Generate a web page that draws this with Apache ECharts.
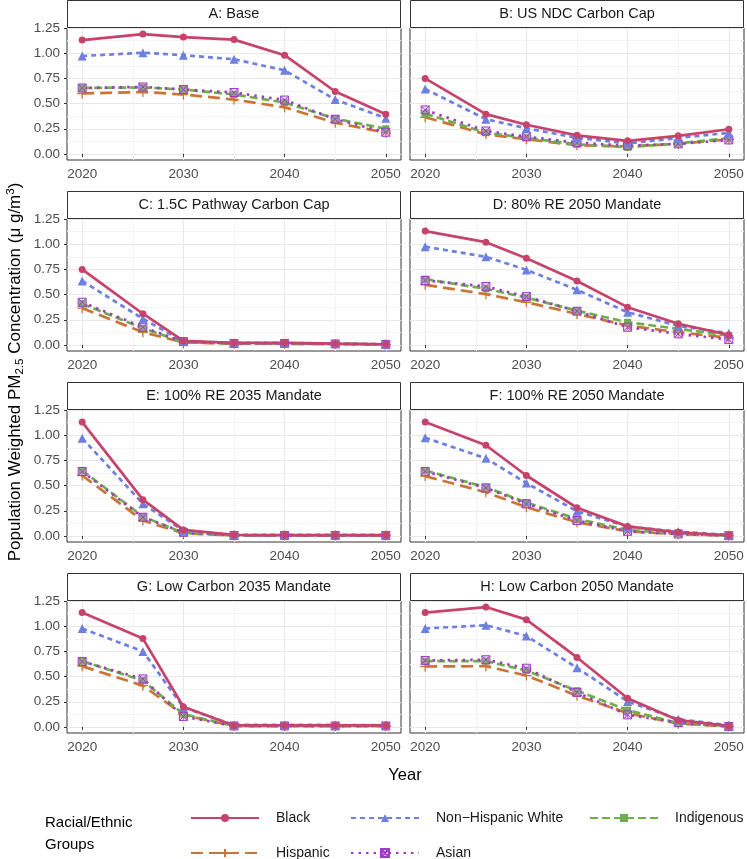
<!DOCTYPE html>
<html>
<head>
<meta charset="utf-8">
<script src="https://cdn.jsdelivr.net/npm/echarts@6/dist/echarts.min.js"></script>
<style>html,body{margin:0;padding:0;background:#fff;}#c{width:747px;height:859px;}</style>
</head>
<body>
<div id="c"></div>
<script>
// ---------------- data ----------------
const years = [2020, 2026, 2030, 2035, 2040, 2045, 2050];
const panelTitles = ['A: Base', 'B: US NDC Carbon Cap', 'C: 1.5C Pathway Carbon Cap', 'D: 80% RE 2050 Mandate',
  'E: 100% RE 2035 Mandate', 'F: 100% RE 2050 Mandate', 'G: Low Carbon 2035 Mandate', 'H: Low Carbon 2050 Mandate'];
const xTicks = [2020, 2030, 2040, 2050];
const xMinorTicks = [2025, 2035, 2045];
const yTicks = [0, 0.25, 0.5, 0.75, 1, 1.25];
const yMinorTicks = [0.125, 0.375, 0.625, 0.875, 1.125];

const black = [
  [1.13, 1.19, 1.16, 1.135, 0.98, 0.62, 0.395],
  [0.75, 0.395, 0.29, 0.185, 0.13, 0.18, 0.245],
  [0.75, 0.31, 0.04, 0.02, 0.02, 0.013, 0.007],
  [1.13, 1.02, 0.86, 0.635, 0.375, 0.21, 0.10],
  [1.13, 0.36, 0.06, 0.01, 0.008, 0.008, 0.008],
  [1.13, 0.90, 0.60, 0.28, 0.095, 0.036, 0.007],
  [1.135, 0.877, 0.20, 0.015, 0.015, 0.015, 0.015],
  [1.135, 1.19, 1.065, 0.69, 0.285, 0.067, 0.01]
];
const nonHispanicWhite = [
  [0.972, 1.005, 0.98, 0.94, 0.83, 0.54, 0.355],
  [0.645, 0.345, 0.255, 0.16, 0.105, 0.158, 0.21],
  [0.635, 0.26, 0.036, 0.02, 0.02, 0.015, 0.008],
  [0.975, 0.875, 0.745, 0.547, 0.325, 0.19, 0.115],
  [0.97, 0.32, 0.053, 0.01, 0.01, 0.01, 0.01],
  [0.975, 0.77, 0.525, 0.245, 0.093, 0.043, 0.01],
  [0.977, 0.75, 0.193, 0.02, 0.02, 0.02, 0.017],
  [0.977, 1.01, 0.903, 0.587, 0.253, 0.077, 0.017]
];
const indigenous = [
  [0.655, 0.66, 0.64, 0.59, 0.51, 0.35, 0.25],
  [0.40, 0.21, 0.16, 0.096, 0.066, 0.106, 0.156],
  [0.41, 0.166, 0.027, 0.015, 0.015, 0.01, 0.005],
  [0.653, 0.557, 0.47, 0.34, 0.225, 0.16, 0.093],
  [0.65, 0.192, 0.03, 0.005, 0.005, 0.005, 0.005],
  [0.65, 0.484, 0.332, 0.169, 0.06, 0.023, 0.003],
  [0.653, 0.46, 0.127, 0.01, 0.01, 0.01, 0.01],
  [0.653, 0.653, 0.56, 0.36, 0.167, 0.037, 0.01]
];
const hispanic = [
  [0.60, 0.615, 0.59, 0.54, 0.463, 0.31, 0.21],
  [0.364, 0.195, 0.146, 0.086, 0.076, 0.10, 0.146],
  [0.365, 0.126, 0.025, 0.012, 0.012, 0.01, 0.004],
  [0.597, 0.504, 0.424, 0.308, 0.192, 0.126, 0.07],
  [0.60, 0.153, 0.027, 0.004, 0.004, 0.004, 0.004],
  [0.594, 0.434, 0.285, 0.136, 0.046, 0.017, 0.003],
  [0.603, 0.41, 0.12, 0.007, 0.007, 0.007, 0.007],
  [0.60, 0.603, 0.51, 0.31, 0.137, 0.033, 0.005]
];
const asian = [
  [0.655, 0.665, 0.64, 0.61, 0.535, 0.345, 0.215],
  [0.437, 0.228, 0.172, 0.112, 0.082, 0.10, 0.139],
  [0.424, 0.176, 0.033, 0.015, 0.015, 0.01, 0.005],
  [0.64, 0.58, 0.48, 0.335, 0.176, 0.11, 0.053],
  [0.64, 0.186, 0.036, 0.005, 0.005, 0.005, 0.005],
  [0.64, 0.477, 0.318, 0.153, 0.046, 0.02, 0.003],
  [0.65, 0.477, 0.103, 0.01, 0.01, 0.01, 0.01],
  [0.66, 0.667, 0.583, 0.343, 0.12, 0.043, 0.005]
];

// ---------------- styles ----------------
const FONT = '"Liberation Sans", Arial, Helvetica, sans-serif';
const groupStyles = [
  {name: 'Hispanic', vals: hispanic, color: '#CC7436', dash: [12, 6], symbol: 'path://M5,0L5,10M0,5L10,5', size: 10, fill: 'none', bw: 1.3},
  {name: 'Indigenous', vals: indigenous, color: '#6DAF4B', dash: [8, 4], symbol: 'rect', size: 7, fill: '#6DAF4B', bw: 0},
  {name: 'Asian', vals: asian, color: '#9C3EC2', dash: [2.5, 5], symbol: 'path://M0,0L10,0L10,10L0,10ZM0,0L10,10M10,0L0,10', size: 8, fill: 'rgba(200,150,220,0.35)', bw: 1},
  {name: 'Non\u2212Hispanic White', vals: nonHispanicWhite, color: '#6E7FE0', dash: [5, 4], symbol: 'triangle', size: 9, fill: '#6E7FE0', bw: 0},
  {name: 'Black', vals: black, color: '#C6436B', dash: 'solid', symbol: 'circle', size: 7, fill: '#C6436B', bw: 0}
];

const PW = 334, PH = 132, STRIP = 28;
const lefts = [67, 410];
const tops = [28, 219, 410, 601];

const grids = [], xAxes = [], yAxes = [], series = [], graphics = [];
panelTitles.forEach((title, i) => {
  const col = i % 2, row = Math.floor(i / 2);
  const L = lefts[col], T = tops[row];
  grids.push({left: L, top: T, width: PW, height: PH, show: true, borderColor: '#333333', borderWidth: 1, backgroundColor: '#fff', containLabel: false});
  xAxes.push({
    type: 'value', gridIndex: i, min: 2018.5, max: 2051.5,
    axisLine: {show: false},
    axisTick: {show: true, length: 3, lineStyle: {color: '#333333'}, customValues: xTicks},
    axisLabel: {show: true, customValues: xTicks, color: '#4D4D4D', fontSize: 13.5, fontFamily: FONT, margin: 7, formatter: v => String(v)},
    splitLine: {show: true, lineStyle: {color: '#E8E8E8', width: 1}}
  });
  xAxes.push({
    type: 'value', gridIndex: i, min: 2018.5, max: 2051.5,
    axisLine: {show: false},
    axisTick: {show: false, customValues: xMinorTicks},
    axisLabel: {show: false, customValues: xMinorTicks},
    splitLine: {show: true, lineStyle: {color: '#F3F3F3', width: 1}}
  });
  yAxes.push({
    type: 'value', gridIndex: i, min: -0.06, max: 1.25,
    axisLine: {show: false},
    axisTick: {show: col === 0, length: 3, lineStyle: {color: '#333333'}, customValues: yTicks},
    axisLabel: {show: col === 0, customValues: yTicks, color: '#4D4D4D', fontSize: 13.5, fontFamily: FONT, margin: 7, formatter: v => v.toFixed(2)},
    splitLine: {show: true, lineStyle: {color: '#E8E8E8', width: 1}}
  });
  yAxes.push({
    type: 'value', gridIndex: i, min: -0.06, max: 1.25,
    axisLine: {show: false},
    axisTick: {show: false, customValues: yMinorTicks},
    axisLabel: {show: false, customValues: yMinorTicks},
    splitLine: {show: true, lineStyle: {color: '#F3F3F3', width: 1}}
  });
  groupStyles.forEach(g => {
    series.push({
      type: 'line', name: g.name, xAxisIndex: 2 * i, yAxisIndex: 2 * i,
      data: years.map((y, k) => [y, g.vals[i][k]]),
      symbol: g.symbol, symbolSize: g.size, showSymbol: true,
      lineStyle: {color: g.color, width: 2.7, type: g.dash, cap: 'butt'},
      itemStyle: {color: g.fill, borderColor: g.color, borderWidth: g.bw},
      emphasis: {disabled: true}, animation: false, clip: false
    });
  });
  graphics.push({
    type: 'rect', shape: {x: L + 0.5, y: T - STRIP + 0.5, width: PW - 1, height: STRIP - 1},
    style: {fill: '#fff', stroke: '#333333', lineWidth: 1}, z: 10
  });
  graphics.push({
    type: 'text', x: L + PW / 2, y: T - STRIP / 2, z: 11,
    style: {text: title, fill: '#1A1A1A', font: '14.5px ' + FONT, textAlign: 'center', textVerticalAlign: 'middle'}
  });
});

// y-axis title
graphics.push({
  type: 'text', x: 15, y: 372, rotation: Math.PI / 2, z: 11,
  style: {
    text: '{a|Population Weighted PM}{s|2.5}{a| Concentration (\u03bc g/m}{p|3}{a|)}',
    textAlign: 'center', textVerticalAlign: 'middle',
    rich: {
      a: {fontSize: 17, fontFamily: FONT, fill: '#000', lineHeight: 21},
      s: {fontSize: 11.5, fontFamily: FONT, fill: '#000', lineHeight: 11, verticalAlign: 'bottom'},
      p: {fontSize: 11.5, fontFamily: FONT, fill: '#000', lineHeight: 11, verticalAlign: 'top'}
    }
  }
});
// x-axis title
graphics.push({
  type: 'text', x: 405, y: 775, z: 11,
  style: {text: 'Year', fill: '#000', font: '16.5px ' + FONT, textAlign: 'center', textVerticalAlign: 'middle'}
});
// legend title
graphics.push({
  type: 'text', x: 45, y: 834, z: 11,
  style: {text: 'Racial/Ethnic\nGroups', fill: '#000', font: '15px ' + FONT, lineHeight: 22, textAlign: 'left', textVerticalAlign: 'middle'}
});

const legendPos = [
  {name: 'Black', left: 190, top: 811},
  {name: 'Non\u2212Hispanic White', left: 350, top: 811},
  {name: 'Indigenous', left: 589, top: 811},
  {name: 'Hispanic', left: 190, top: 846},
  {name: 'Asian', left: 350, top: 846}
];
const legends = legendPos.map(p => ({
  data: [p.name], left: p.left, top: p.top, orient: 'horizontal',
  itemWidth: 68, itemHeight: 10, padding: 0, selectedMode: false,
  textStyle: {fontSize: 14, fontFamily: FONT, color: '#1A1A1A', padding: [0, 0, 0, 12]}
}));

const chart = echarts.init(document.getElementById('c'), null, {renderer: 'canvas'});
chart.setOption({
  backgroundColor: '#fff',
  animation: false,
  grid: grids, xAxis: xAxes, yAxis: yAxes, series: series,
  legend: legends,
  graphic: graphics
});
</script>
</body>
</html>
